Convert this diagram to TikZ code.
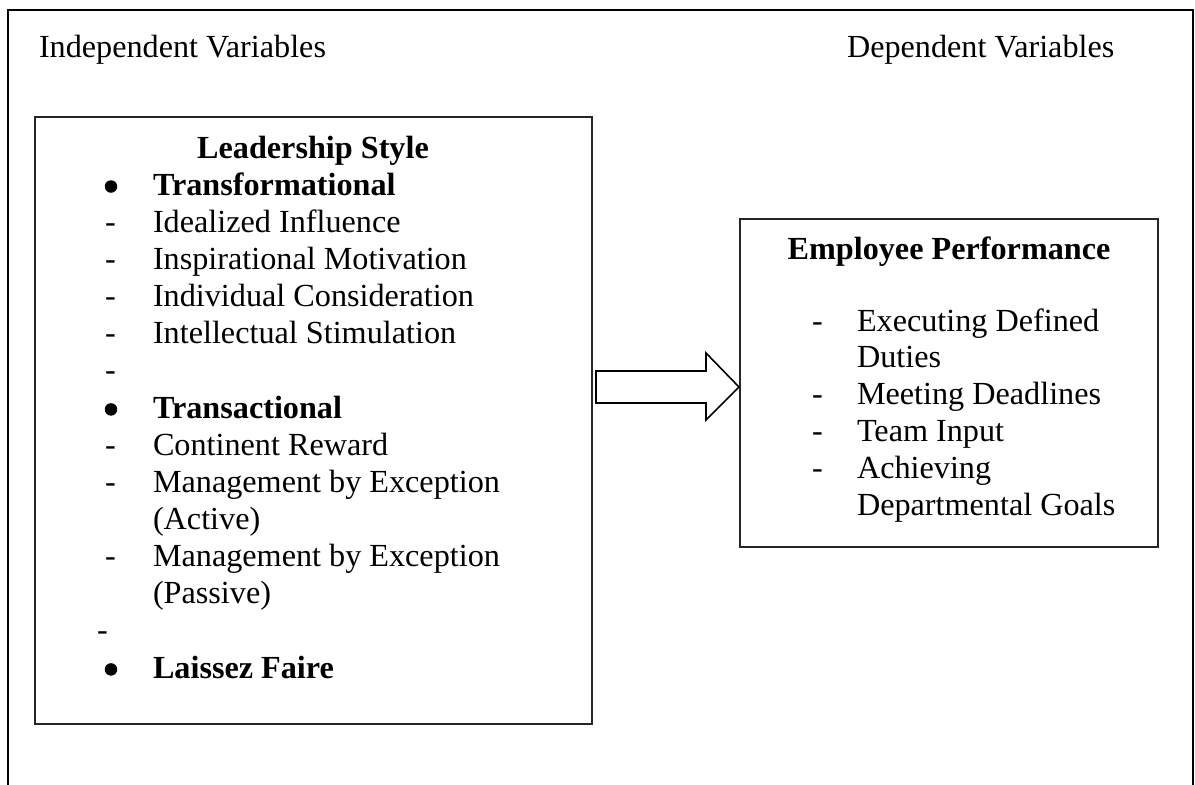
\documentclass[tikz,border=0pt]{standalone}
\usepackage{fontspec}
\setmainfont{Liberation Serif}
\begin{document}
\begin{tikzpicture}[x=1pt,y=-1pt,
  every node/.style={inner sep=0pt,outer sep=0pt,font=\fontsize{32.2}{37}\selectfont},
  txt/.style={anchor=base west},
  btxt/.style={anchor=base west,font=\fontsize{32.2}{37}\selectfont\bfseries},
  head/.style={anchor=base,font=\fontsize{32.2}{37}\selectfont\bfseries},
  dot/.style={circle,fill=black,minimum size=12.5pt},
  frame/.style={draw=black,line width=2.6pt},
  panel/.style={draw=black!85,line width=1.5pt,rectangle,anchor=north west},
  blockarrow/.style={draw=black,line width=1.6pt,line join=miter,fill=white}]
\useasboundingbox (0,0) rectangle (1195,785);

% open outer frame (no bottom edge)
\draw[frame] (8,785) -- (8,10) -- (1193,10) -- (1193,785);

% column headings
\node[txt] (indep) at (39,57) {Independent Variables};
\node[txt] (dep) at (847,57) {Dependent Variables};

% the two panels
\node[panel,minimum width=557pt,minimum height=607pt] (lead) at (35,117) {};
\node[panel,minimum width=418pt,minimum height=328pt] (perf) at (740,219) {};

% block arrow from the leadership panel to the performance panel
\coordinate (a1) at (596,371);
\coordinate (a2) at (706,371);
\coordinate (a3) at (706,353);
\coordinate (tip) at (739,387);
\coordinate (a5) at (706,420);
\coordinate (a6) at (706,403);
\coordinate (a7) at (596,403);
\draw[blockarrow] (a1) -- (a2) -- (a3) -- (tip) -- (a5) -- (a6) -- (a7) -- cycle;

% leadership style list
\node[head] (leadT) at (313,158) {Leadership Style};
\node[dot] (b1) at (111,186.5) {};
\node[btxt] (l1) at (153,195.1) {Transformational};
\node[txt] (d2) at (105,232.3) {-};
\node[txt] (l2) at (153,232.3) {Idealized Influence};
\node[txt] (d3) at (105,269.4) {-};
\node[txt] (l3) at (153,269.4) {Inspirational Motivation};
\node[txt] (d4) at (105,306.6) {-};
\node[txt] (l4) at (153,306.6) {Individual Consideration};
\node[txt] (d5) at (105,343.7) {-};
\node[txt] (l5) at (153,343.7) {Intellectual Stimulation};
\node[txt] (d6) at (105,380.8) {-};
\node[dot] (b7) at (111,409.4) {};
\node[btxt] (l7) at (153,418.0) {Transactional};
\node[txt] (d8) at (105,455.1) {-};
\node[txt] (l8) at (153,455.1) {Continent Reward};
\node[txt] (d9) at (105,492.3) {-};
\node[txt] (l9) at (153,492.3) {Management by Exception};
\node[txt] (l10) at (153,529.4) {(Active)};
\node[txt] (d11) at (105,566.5) {-};
\node[txt] (l11) at (153,566.5) {Management by Exception};
\node[txt] (l12) at (153,603.7) {(Passive)};
\node[txt] (d13) at (97,640.8) {-};
\node[dot] (b14) at (111,669.4) {};
\node[btxt] (l14) at (153,678.0) {Laissez Faire};

% employee performance list
\node[head] (perfT) at (949,259) {Employee Performance};
\node[txt] (e1d) at (812,331) {-};
\node[txt] (e1) at (857,331) {Executing Defined};
\node[txt] (e1b) at (857,367.9) {Duties};
\node[txt] (e2d) at (812,404.8) {-};
\node[txt] (e2) at (857,404.8) {Meeting Deadlines};
\node[txt] (e3d) at (812,441.8) {-};
\node[txt] (e3) at (857,441.8) {Team Input};
\node[txt] (e4d) at (812,478.7) {-};
\node[txt] (e4) at (857,478.7) {Achieving};
\node[txt] (e4b) at (857,515.7) {Departmental Goals};
\end{tikzpicture}
\end{document}
